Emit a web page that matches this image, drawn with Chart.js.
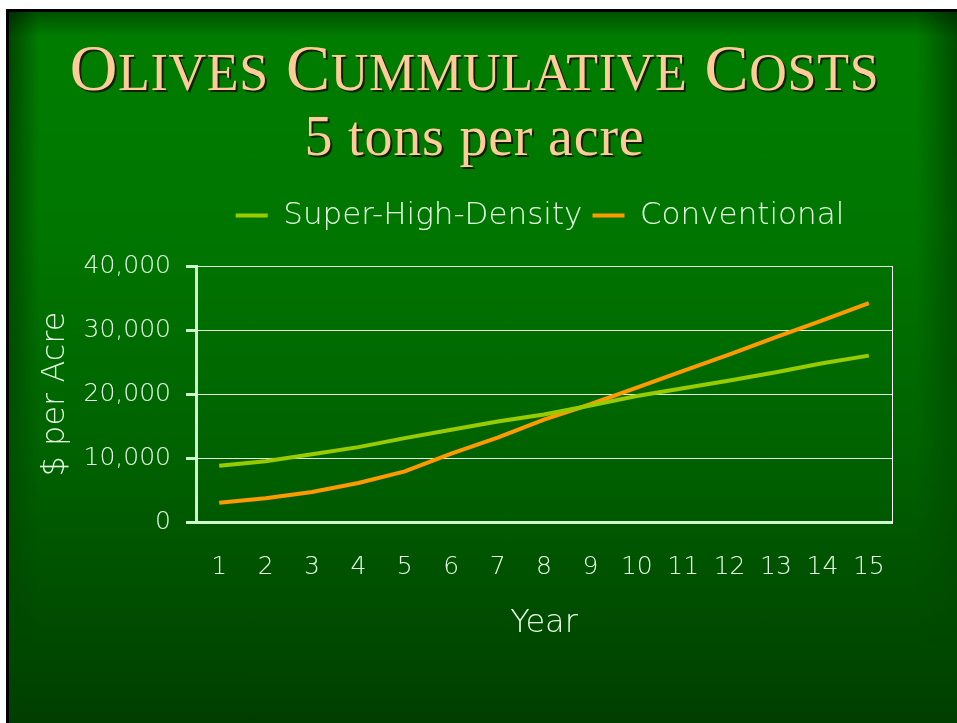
<!DOCTYPE html>
<html>
<head>
<meta charset="utf-8">
<script src="https://cdn.jsdelivr.net/npm/chart.js@4.4.0/dist/chart.umd.min.js"></script>
<style>
  html, body { margin: 0; padding: 0; background: #fff; width: 957px; height: 723px; overflow: hidden; }
  .slide {
    position: absolute; left: 6px; top: 9px; width: 951px; height: 714px;
    box-sizing: border-box; border-left: 3px solid #000; border-top: 3px solid #000;
    background: linear-gradient(to bottom, #007e00 0%, #007600 30%, #006200 62%, #003e00 100%);
    overflow: hidden;
  }
  .slide::before {
    content: ""; position: absolute; inset: 0;
    background:
      linear-gradient(to right, rgba(0,0,0,.45), rgba(0,0,0,0) 30px, rgba(0,0,0,0) calc(100% - 40px), rgba(0,0,0,.4)),
      linear-gradient(to bottom, rgba(0,0,0,.35), rgba(0,0,0,0) 25px);
    -webkit-mask-image: linear-gradient(to bottom, #000 0%, rgba(0,0,0,.6) 50%, transparent 90%);
  }
  .title {
    position: absolute; left: 0; width: 949px; text-align: center; white-space: nowrap;
    color: #ffcc99; font-family: "Liberation Serif", serif;
    text-shadow: 2px 2px 0 #0c2200;
  }
  #t1 { top: 35px; font-size: 66px; line-height: 1; letter-spacing: 0.7px; }
  #t1 .sc { font-size: 52px; }
  #t2 { top: 108px; font-size: 56px; line-height: 1; letter-spacing: 0.8px; }
  #wrap { position: absolute; left: 0; top: 180px; width: 957px; height: 543px; }
</style>
</head>
<body>
<div class="slide"></div>
<div class="title" id="t1">O<span class="sc">LIVES</span> C<span class="sc">UMMULATIVE</span> C<span class="sc">OSTS</span></div>
<div class="title" id="t2">5 tons per acre</div>
<div id="wrap"><canvas id="chart"></canvas></div>

<script>
// Werte ($ pro Acre, kumuliert)
const years = ["1","2","3","4","5","6","7","8","9","10","11","12","13","14","15"];
const superHighDensity = [8800, 9500, 10600, 11700, 13100, 14400, 15700, 16800, 18200, 19700, 20900, 22100, 23400, 24800, 26000];
const conventional     = [3000, 3700, 4700, 6100, 7900, 10700, 13200, 16000, 18400, 21000, 23600, 26200, 28900, 31500, 34200];
const yTicks = [0, 10000, 20000, 30000, 40000];

const MINT = "#ccffcc";
const TEXT = "#e6ffe6";
const FONT = "'DejaVu Sans', sans-serif";
const W = "200";

// Legende: mehr Abstand nach unten, über dem Plotbereich zentriert
const legendGap = {
  id: "legendGap",
  beforeInit(chart) {
    const fit = chart.legend.fit;
    chart.legend.fit = function () {
      fit.call(this);
      this.height = 76;
    };
  },
  afterLayout(chart) {
    chart.legend.left = chart.chartArea.left - 8;
    chart.legend.right = chart.chartArea.right;
  },
};

new Chart(document.getElementById("chart"), {
  type: "line",
  data: {
    labels: years,
    datasets: [
      {
        label: "Super-High-Density",
        data: superHighDensity,
        borderColor: "#99cc00",
        backgroundColor: "#99cc00",
        borderWidth: 4,
        pointRadius: 0,
        tension: 0,
      },
      {
        label: "Conventional",
        data: conventional,
        borderColor: "#ff9900",
        backgroundColor: "#ff9900",
        borderWidth: 4,
        pointRadius: 0,
        tension: 0,
      },
    ],
  },
  options: {
    responsive: true,
    maintainAspectRatio: false,
    animation: false,
    layout: { padding: { left: 36, right: 65, top: 10, bottom: 81 } },
    plugins: {
      legend: {
        position: "top",
        labels: {
          color: TEXT,
          font: { family: FONT, size: 31, weight: W },
          usePointStyle: true,
          pointStyle: "line",
          pointStyleWidth: 32,
          padding: 10,
        },
      },
      tooltip: { enabled: false },
    },
    scales: {
      x: {
        offset: true,
        grid: { display: false, drawTicks: false },
        border: { display: true, color: MINT, width: 3 },
        ticks: { color: TEXT, font: { family: FONT, size: 25, weight: W }, padding: 30, maxRotation: 0 },
        title: { display: true, text: "Year", color: TEXT, font: { family: FONT, size: 32, weight: W }, padding: { top: 0, bottom: -1 } },
        afterFit(s) { s.height = 120; },
      },
      y: {
        min: 0,
        max: 40000,
        afterBuildTicks(s) { s.ticks = yTicks.map(v => ({ value: v })); },
        grid: { color: "#e4f2e4", lineWidth: 1, tickLength: 10, tickColor: MINT, tickWidth: 3 },
        border: { display: true, color: MINT, width: 3 },
        ticks: { color: TEXT, font: { family: FONT, size: 25, weight: W }, padding: 15 },
        title: { display: true, text: "$ per Acre", color: TEXT, font: { family: FONT, size: 32, weight: W }, padding: { top: 0, bottom: 0 } },
        afterFit(s) { s.width = 160; },
      },
      yRight: {
        position: "right",
        min: 0,
        max: 40000,
        ticks: { display: false },
        grid: { drawOnChartArea: false, drawTicks: false },
        border: { display: true, color: "#ffffff", width: 1 },
      },
    },
  },
  plugins: [legendGap],
});
</script>
</body>
</html>
